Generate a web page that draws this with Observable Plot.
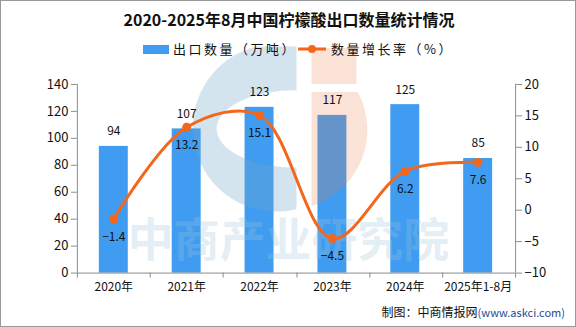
<!DOCTYPE html>
<html><head><meta charset="utf-8">
<script src="https://cdn.jsdelivr.net/npm/d3@7"></script>
<script src="https://cdn.jsdelivr.net/npm/@observablehq/plot@0.6"></script>
<style>
body{margin:0;background:#fff;}
#wrap{position:relative;width:576px;height:327px;box-sizing:border-box;border:1px solid #999;background:#fff;font-family:"Noto Sans CJK SC","Noto Sans",sans-serif;overflow:hidden;}
#title{position:absolute;top:7px;left:0;width:576px;text-align:center;font-size:16px;font-weight:bold;color:#111;line-height:22px;z-index:2;}
#legend{position:absolute;top:39px;left:0;width:576px;height:18px;font-size:13px;color:#111;line-height:18px;z-index:2;}
.lg{position:absolute;top:0;display:flex;align-items:center;letter-spacing:2.5px;white-space:nowrap;}
#chart{position:absolute;top:40px;left:-1px;z-index:1;}
#foot{position:absolute;right:10px;top:303px;font-size:12px;color:#111;line-height:16px;}
#foot span{color:#1d4c9a;font-size:11px;}
</style></head>
<body>
<div id="wrap">
  <div id="title">2020-2025年8月中国柠檬酸出口数量统计情况</div>
  <div id="legend">
    <div class="lg" style="left:142px"><span style="display:inline-block;width:26px;height:9px;background:#3f9cf0;margin-right:4px"></span>出口数量（万吨）</div>
    <div class="lg" style="left:296px"><svg width="30" height="12" style="margin-right:4px"><line x1="1" y1="6" x2="29" y2="6" stroke="#f4661c" stroke-width="3"/><circle cx="15" cy="6" r="4" fill="#f4661c"/></svg>数量增长率（%）</div>
  </div>
  <div id="chart"></div>
  <div id="foot">制图：中商情报网<span>(www.askci.com)</span></div>
</div>
<script>
const years = ["2020年","2021年","2022年","2023年","2024年","2025年1-8月"];
const volume = [94, 107, 123, 117, 125, 85];
const growth = [-1.4, 13.2, 15.1, -4.5, 6.2, 7.6];
const leftTicks = [0, 20, 40, 60, 80, 100, 120, 140];
const rightTicks = [-10, -5, 0, 5, 10, 15, 20];
const watermark = "中商产业研究院";

const blue = "#3f9cf0", orange = "#f4661c", axisColor = "#8c8c8c";
const leftMax = leftTicks[leftTicks.length - 1];
const rMin = rightTicks[0], rMax = rightTicks[rightTicks.length - 1];
const g2v = g => (g - rMin) / (rMax - rMin) * leftMax;
const v2g = v => v / leftMax * (rMax - rMin) + rMin;

const data = years.map((y, i) => ({year: y, vol: volume[i], gr: growth[i], gy: g2v(growth[i])}));

function axisLines(index, scales, values, dims) {
  const {marginLeft: l, marginRight: r, marginTop: t, marginBottom: b, width: w, height: h} = dims;
  const x0 = l, x1 = w - r, yb = h - b;
  const g = d3.create("svg:g").attr("stroke", axisColor).attr("fill", "none").attr("stroke-width", 1);
  g.append("line").attr("x1", x0 + 0.5).attr("x2", x0 + 0.5).attr("y1", t).attr("y2", yb);
  g.append("line").attr("x1", x1 + 0.5).attr("x2", x1 + 0.5).attr("y1", t).attr("y2", yb);
  g.append("line").attr("x1", x0).attr("x2", x1).attr("y1", yb + 0.5).attr("y2", yb + 0.5);
  const step = (x1 - x0) / years.length;
  for (let k = 0; k <= years.length; k++) {
    const xx = Math.round(x0 + k * step) + 0.5;
    g.append("line").attr("x1", xx).attr("x2", xx).attr("y1", yb).attr("y2", yb + 5);
  }
  return g.node();
}

// decorative background logo (watermark), placed relative to the plot frame
function logo(index, scales, values, dims) {
  const {marginLeft: l, marginTop: t} = dims;
  const cx = l + 211, cy = t + 46, R = 80;
  const g = d3.create("svg:g");
  const bx = cx + 9, bdy = Math.sqrt(R * R - 81);
  g.append("path")
    .attr("d", `M${bx},${cy - bdy - 4} L${bx - 40},${cy - bdy - 4} A${R},${R} 0 1 0 ${bx},${cy + bdy} Z M${bx},${cy - 40} A80,39 0 0 0 ${bx},${cy + 38} Z`)
    .attr("fill-rule", "evenodd").attr("fill", "#6fa6c9").attr("fill-opacity", 0.3);
  const ox = cx + 24, oy = cy - 38, odx = Math.sqrt(R * R - 38 * 38), ody = Math.sqrt(R * R - 24 * 24);
  g.append("path")
    .attr("d", `M${ox},${oy} L${cx + odx},${oy} A${R},${R} 0 0 1 ${ox},${cy + ody} Z M${ox},${cy - 82} L${ox + 45},${cy - 82} L${ox + 45},${cy - 46} L${ox},${cy - 46} Z`)
    .attr("fill", "#ec7a45").attr("fill-opacity", 0.22);
  return g.node();
}

const chart = Plot.plot({
  width: 576, height: 262,
  marginTop: 43, marginBottom: 30, marginLeft: 77, marginRight: 60,
  style: {fontFamily: "'Noto Sans CJK SC','Noto Sans',sans-serif", fontSize: "12px", color: "#111", background: "transparent", overflow: "visible"},
  x: {domain: years, paddingInner: 0.6, paddingOuter: 0.3, label: null},
  y: {domain: [0, leftMax], label: null},
  marks: [
    Plot.barY(data, {x: "year", y: "vol", fill: blue}),
    logo,
    axisLines,
    Plot.axisY(leftTicks, {anchor: "left", tickSize: 6, tickPadding: 3, stroke: axisColor, fontSize: 13, label: null}),
    Plot.axisY(rightTicks.map(g2v), {anchor: "right", tickSize: 6, tickPadding: 3, stroke: axisColor, fontSize: 13, label: null,
      tickFormat: d => { const v = Math.round(v2g(d)); return v < 0 ? "−" + (-v) : String(v); }}),
    Plot.axisX({tickSize: 0, tickPadding: 9, fontSize: 12, label: null}),
    Plot.text(data, {x: "year", y: "vol", text: d => String(d.vol), dy: -15, fontSize: 12, fill: "#111"}),
    Plot.text([watermark], {frameAnchor: "bottom", dy: -17, dx: -8, text: d => d, fontSize: 46, fontWeight: "bold", fill: "#9cc3dc", fillOpacity: 0.3, letterSpacing: 3}),
    Plot.line(data, {x: "year", y: "gy", stroke: orange, strokeWidth: 3, curve: "catmull-rom"}),
    Plot.dot(data, {x: "year", y: "gy", r: 4.5, fill: orange, stroke: null}),
    Plot.text(data, {x: "year", y: "gy", text: d => d.gr.toFixed(1).replace("-", "−"), dy: 18, fontSize: 12, fill: "#111"})
  ]
});
document.getElementById("chart").appendChild(chart);
</script>
</body></html>
